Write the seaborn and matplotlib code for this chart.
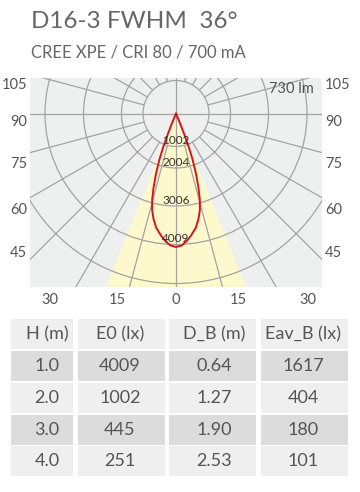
import numpy as np
import pandas as pd
import matplotlib
matplotlib.use("Agg")
import matplotlib.pyplot as plt
from matplotlib.patches import Circle, Rectangle
import seaborn as sns

sns.set_theme(style="white")
plt.rcParams["font.family"] = ["Lato", "DejaVu Sans"]
plt.rcParams["font.weight"] = "normal"

# ---- Data ----
TITLE = "D16-3 FWHM  36°"
SUBTITLE = "CREE XPE / CRI 80 / 700 mA"
FLUX_LABEL = "730 lm"

# polar intensity curve (gamma in deg from nadir, cd)
LOBE_GAMMA = [0, 2.5, 4.8, 7, 9.8, 12, 13.9, 15.5, 16.8, 18.3, 19.8, 20.8, 21.6, 22.4, 23]
LOBE_CD = [4009, 3964, 3844, 3694, 3483, 3243, 2985, 2673, 2336, 1922, 1483, 1081, 691, 330, 0]
BEAM_HALF_ANGLE = 22

RING_LABELS = [1002, 2004, 3006, 4009]
SIDE_ANGLES = [105, 90, 75, 60, 45]
BOTTOM_ANGLES = [30, 15, 0, 15, 30]
GRID_GAMMA = [15, 30, 45, 60, 75, 105, 120, 135, 150, 165]

HEADERS = ["H (m)", "E0 (lx)", "D_B (m)", "Eav_B (lx)"]
H_M = [1.0, 2.0, 3.0, 4.0]
E0_LX = [4009, 1002, 445, 251]
DB_M = [0.64, 1.27, 1.90, 2.53]
EAVB_LX = [1617, 404, 180, 101]

# ---- Layout (pixels of the 360x492 canvas) ----
W, H = 360, 492
CD_TO_PX = 133.5 / 4009
HUB_R = 33
RING_R = [33, 54.5, 92.5, 131, 170]
SIDE_POS = [30.2, -6.5, -48.8, -94.8, -138.2]
BOTTOM_POS = [-126, -59, 0, 62, 132]
COL_X = [(11, 73), (78, 165), (169, 256), (261, 348)]
COL_TXT = [47, 120, 214, 303]
ROW_TOP = [319, 351, 383, 415, 446]
ROW_H = 29.5

BG = "#eeefef"
YELLOW = "#fef9cc"
GRID = "#a3a3a3"
RED = "#d2161c"
TXT = "#555555"

fig = plt.figure(figsize=(W / 100, H / 100), dpi=100)
fig.patch.set_facecolor("white")

# page axes in pixel coords (title + table)
page = fig.add_axes([0, 0, 1, 1])
page.set_xlim(0, W)
page.set_ylim(H, 0)
page.axis("off")

page.text(31, 22, TITLE, fontsize=17.5, color="#666666", va="center", ha="left")
page.text(31, 52, SUBTITLE, fontsize=12, color="#666666", va="center", ha="left")

rows = [HEADERS] + [
    [f"{h:.1f}", f"{e}", f"{d:.2f}", f"{a}"]
    for h, e, d, a in zip(H_M, E0_LX, DB_M, EAVB_LX)
]
for i, row in enumerate(rows):
    fc = "#dcdcdc" if i % 2 == 1 else "#efefef"
    for j, cell in enumerate(row):
        x0, x1 = COL_X[j]
        page.add_patch(Rectangle((x0, ROW_TOP[i]), x1 - x0, ROW_H, facecolor=fc, edgecolor="none"))
        page.text(COL_TXT[j], ROW_TOP[i] + ROW_H / 2 + 0.5, cell, fontsize=13,
                  color=TXT, ha="center", va="center")

# ---- Polar diagram ----
left, right, top, bottom = 30, 322, 78, 287
cx, cy = 176, 113.5
ax = fig.add_axes([left / W, (H - bottom) / H, (right - left) / W, (bottom - top) / H])
ax.set_facecolor(BG)
ax.set_xlim(left - cx, right - cx)
ax.set_ylim(-(bottom - cy), cy - top)
for s in ax.spines.values():
    s.set_visible(False)

# beam cone
a = np.radians(BEAM_HALF_ANGLE)
L = 400
ax.fill([0, -L * np.sin(a), L * np.sin(a)], [0, -L * np.cos(a), -L * np.cos(a)],
        color=YELLOW, lw=0, zorder=1)

# lobe
g = np.radians(np.array(LOBE_GAMMA))
r = np.array(LOBE_CD) * CD_TO_PX
lobe = pd.DataFrame({
    "x": np.concatenate([-(r * np.sin(g))[::-1], (r * np.sin(g))[1:]]),
    "y": np.concatenate([-(r * np.cos(g))[::-1], -(r * np.cos(g))[1:]]),
})
ax.fill(lobe["x"], lobe["y"], color=YELLOW, lw=0, zorder=1)

# grid
for rr in RING_R:
    ax.add_patch(Circle((0, 0), rr, fill=False, edgecolor=GRID, lw=0.9, zorder=2))
for gm in GRID_GAMMA:
    t = np.radians(gm)
    for sgn in (-1, 1):
        ax.plot([sgn * HUB_R * np.sin(t), sgn * 400 * np.sin(t)],
                [-HUB_R * np.cos(t), -400 * np.cos(t)], color=GRID, lw=0.9, zorder=2)
ax.axhline(0, color=GRID, lw=0.9, zorder=2)
ax.axvline(0, color=GRID, lw=0.9, zorder=2)

sns.lineplot(data=lobe, x="x", y="y", sort=False, estimator=None, color=RED,
             lw=1.4, ax=ax, zorder=3)

for lab, rr in zip(RING_LABELS, RING_R[:4]):
    ax.text(0, -rr + 6, str(lab), fontsize=8.5, color="#333333", ha="center",
            va="center", zorder=4)

ax.text(right - cx - 8, cy - 89, FLUX_LABEL, fontsize=10.5, color=TXT, ha="right",
        va="center", zorder=4)

ax.set_xlabel("")
ax.set_ylabel("")
ax.set_yticks(SIDE_POS)
ax.set_yticklabels([str(v) for v in SIDE_ANGLES])
ax.set_xticks(BOTTOM_POS)
ax.set_xticklabels([str(v) for v in BOTTOM_ANGLES])
ax.tick_params(axis="y", labelleft=True, labelright=True, length=0, pad=2,
               labelsize=10.5, labelcolor=TXT)
ax.tick_params(axis="x", length=0, pad=4, labelsize=10.5, labelcolor=TXT)

fig.savefig("out.png", dpi=100)
